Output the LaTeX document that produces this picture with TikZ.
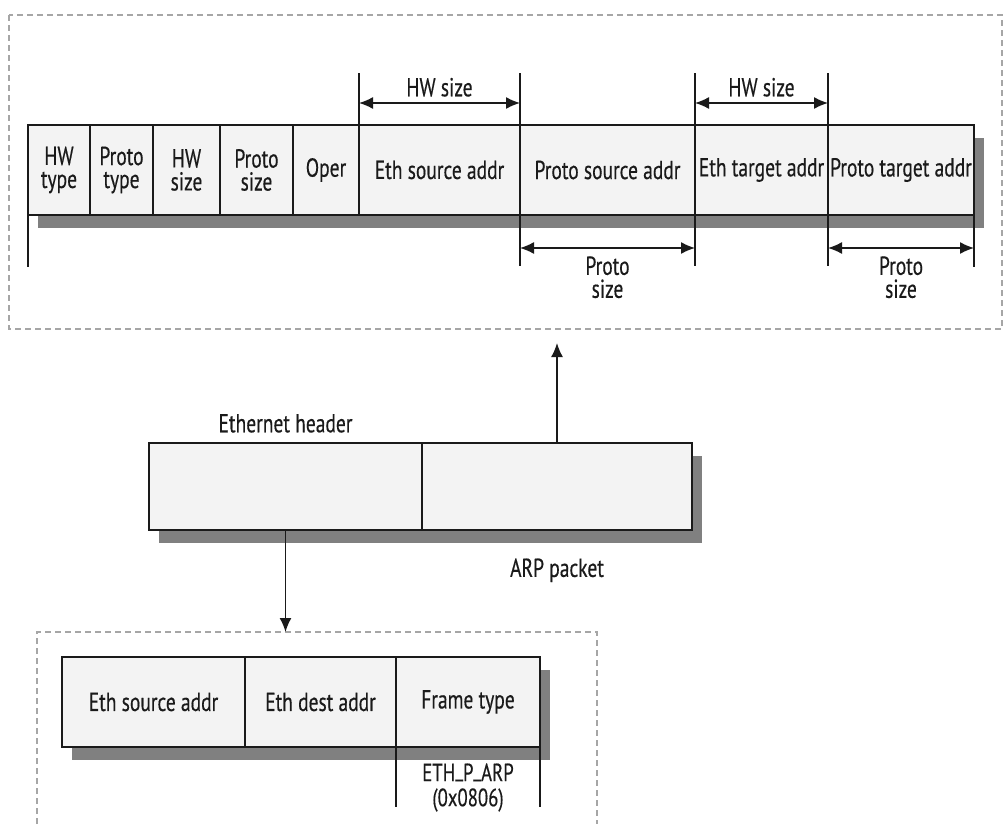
\documentclass[tikz,border=0pt]{standalone}
\usepackage{fontspec}
\setmainfont{PT Sans}[FakeStretch=0.75, FakeBold=0.4]
\usepackage{tikz}
\usetikzlibrary{positioning, calc, arrows.meta, shadows}
\definecolor{Ink}{HTML}{1A1A1A}
\definecolor{CellFill}{HTML}{F3F3F3}
\definecolor{Shade}{HTML}{808080}
\definecolor{Frame}{HTML}{A6A6A6}

\tikzset{
  cell/.style={draw=Ink, line width=0.8pt, fill=CellFill, outer sep=0pt,
               inner sep=1pt, align=center, text=Ink,
               font=\fontsize{13}{11.5}\selectfont,
               drop shadow={shadow xshift=5pt, shadow yshift=-6.5pt,
                            fill=Shade, opacity=1}},
  lbl/.style={text=Ink, align=center, inner sep=1pt,
              font=\fontsize{13}{11.5}\selectfont},
  dim/.style={draw=Ink, line width=0.7pt,
              {Latex[length=7pt,width=6pt]}-{Latex[length=7pt,width=6pt]}},
  ext/.style={draw=Ink, line width=0.7pt},
  flow/.style={draw=Ink, line width=0.8pt, -{Latex[length=7pt,width=6pt]}},
  frame/.style={draw=Frame, line width=0.6pt, dash pattern=on 3pt off 2pt}
}

\begin{document}
\begin{tikzpicture}[x=0.5pt, y=-0.5pt]
\useasboundingbox (0,0) rectangle (1004,824);

% dashed frames
\draw[frame] (9,15) rectangle (1002,329);
\draw[frame] (37,824) -- (37,632) -- (597,632) -- (597,824);

% ARP packet fields
\node[cell, minimum width=31pt, minimum height=45pt, anchor=north west] (hwtype) at (28,125) {HW\\type};
\node[cell, minimum width=31.5pt, minimum height=45pt, right=0pt of hwtype] (prototype) {Proto\\type};
\node[cell, minimum width=33.5pt, minimum height=45pt, right=0pt of prototype] (hwsize) {HW\\size};
\node[cell, minimum width=36.5pt, minimum height=45pt, right=0pt of hwsize] (protosize) {Proto\\size};
\node[cell, minimum width=33pt, minimum height=45pt, right=0pt of protosize] (oper) {Oper};
\node[cell, minimum width=80.5pt, minimum height=45pt, right=0pt of oper] (ethsrc) {Eth source addr};
\node[cell, minimum width=87.5pt, minimum height=45pt, right=0pt of ethsrc] (protosrc) {Proto source addr};
\node[cell, minimum width=66.5pt, minimum height=45pt, right=0pt of protosrc] (ethtgt) {Eth target addr};
\node[cell, minimum width=73pt, minimum height=45pt, right=0pt of ethtgt] (prototgt) {Proto target addr};

% extension lines
\draw[ext] (hwtype.south west) -- ++(0,52);
\draw[ext] (ethsrc.north west) -- ++(0,-52);
\draw[ext] (protosrc.north west) -- ++(0,-52);
\draw[ext] (protosrc.south west) -- ++(0,51);
\draw[ext] (ethtgt.north west) -- ++(0,-52);
\draw[ext] (ethtgt.south west) -- ++(0,51);
\draw[ext] (prototgt.north west) -- ++(0,-52);
\draw[ext] (prototgt.south west) -- ++(0,51);
\draw[ext] (prototgt.south east) -- ++(0,52);

% size arrows
\coordinate (hwa1) at ($(ethsrc.north west)+(0,-22)$);
\coordinate (hwa2) at ($(protosrc.north west)+(0,-22)$);
\coordinate (hwb1) at ($(ethtgt.north west)+(0,-22)$);
\coordinate (hwb2) at ($(prototgt.north west)+(0,-22)$);
\coordinate (pra1) at ($(protosrc.south west)+(0,33)$);
\coordinate (pra2) at ($(ethtgt.south west)+(0,33)$);
\coordinate (prb1) at ($(prototgt.south west)+(0,33)$);
\coordinate (prb2) at ($(prototgt.south east)+(0,33)$);
\draw[dim] (hwa1) -- (hwa2);
\draw[dim] (hwb1) -- (hwb2);
\draw[dim] (pra1) -- (pra2);
\draw[dim] (prb1) -- (prb2);
\node[lbl, above=2pt] (hwlbla) at ($(hwa1)!0.5!(hwa2)$) {HW size};
\node[lbl, above=2pt] (hwlblb) at ($(hwb1)!0.5!(hwb2)$) {HW size};
\node[lbl, below=3pt] (prlbla) at ($(pra1)!0.5!(pra2)$) {Proto\\size};
\node[lbl, below=3pt] (prlblb) at ($(prb1)!0.5!(prb2)$) {Proto\\size};

% Ethernet frame
\node[cell, minimum width=136.5pt, minimum height=43.5pt, anchor=north west] (ethhdr) at (149,443) {};
\node[cell, minimum width=135pt, minimum height=43.5pt, right=0pt of ethhdr] (arppkt) {};
\node[lbl, above=4pt of ethhdr.north] (ethhdrlbl) {Ethernet header};
\node[lbl, below=13pt of arppkt.south] (arppktlbl) {ARP packet};
\coordinate (toarp) at (557,343);
\coordinate (toeth) at (285.5,632);
\draw[flow] (arppkt.north) -- (toarp);
\draw[flow] (ethhdr.south) -- (toeth);

% Ethernet header fields
\node[cell, minimum width=91.5pt, minimum height=45pt, anchor=north west] (fethsrc) at (62,657) {Eth source addr};
\node[cell, minimum width=75.5pt, minimum height=45pt, right=0pt of fethsrc] (fethdst) {Eth dest addr};
\node[cell, minimum width=72pt, minimum height=45pt, right=0pt of fethdst] (frametype) {Frame type};
\draw[ext] (frametype.south west) -- ++(0,60);
\draw[ext] (frametype.south east) -- ++(0,60);
\node[lbl, below=7pt of frametype.south, font=\fontsize{12.5}{12.5}\selectfont] (ethparp)
  {ETH\raisebox{2.5pt}{\_}P\raisebox{2.5pt}{\_}ARP\\(0x0806)};
\end{tikzpicture}
\end{document}
